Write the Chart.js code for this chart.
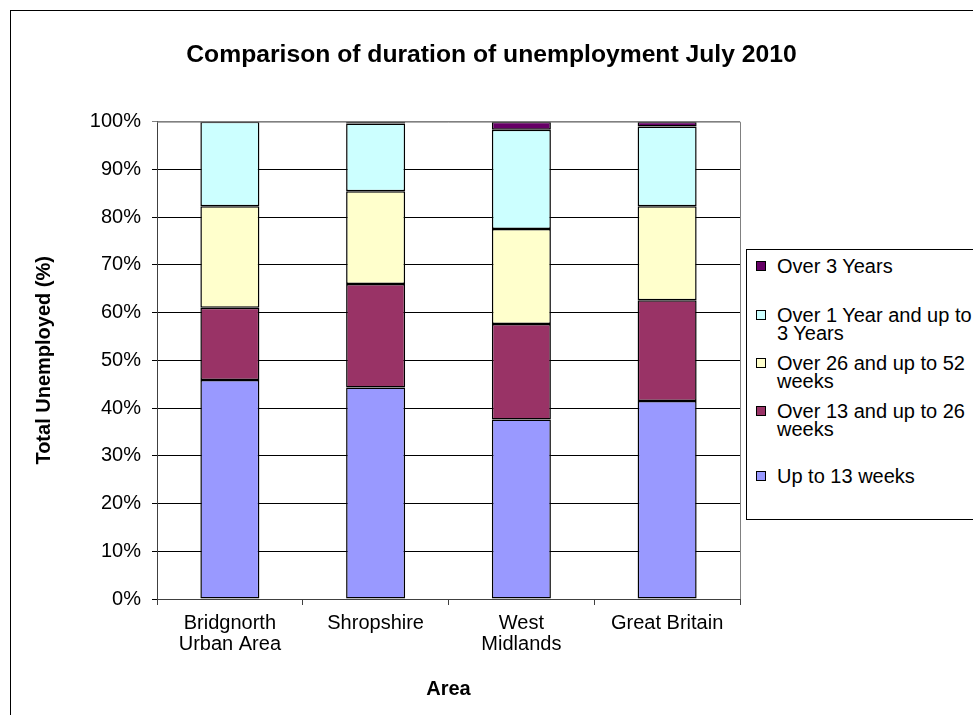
<!DOCTYPE html>
<html>
<head>
<meta charset="utf-8">
<script src="https://cdn.jsdelivr.net/npm/chart.js@4.4.0/dist/chart.umd.min.js"></script>
<style>
  html, body { margin: 0; padding: 0; background: #fff; overflow: hidden; }
  #wrap { position: relative; width: 973px; height: 715px; }
  #legend {
    position: absolute; left: 746px; top: 249px; width: 300px; height: 269px;
    border: 1px solid #000; background: #fff;
    font: 20px "Liberation Sans", Arial, sans-serif; color: #000;
  }
  .item { position: absolute; left: 30px; line-height: 18px; white-space: nowrap; }
  .sw { position: absolute; left: -21px; top: 4px; width: 8px; height: 8px; border: 1px solid #000; }
</style>
</head>
<body>
<div id="wrap">
  <canvas id="chart" width="973" height="715"></canvas>
  <div id="legend"></div>
</div>
<script>
// data
const areas = [["Bridgnorth", "Urban Area"], "Shropshire", ["West", "Midlands"], "Great Britain"];
const upTo13Weeks = [45.9, 44.3, 37.6, 41.5];
const over13To26 = [15.1, 21.7, 20.0, 21.1];
const over26To52 = [21.3, 19.4, 19.9, 19.7];
const over1To3Years = [17.7, 14.2, 20.8, 16.7];
const over3Years = [0.0, 0.4, 1.7, 1.0];

const font = "'Liberation Sans', Arial, sans-serif";

const series = [
  { label: "Up to 13 weeks", data: upTo13Weeks, color: "#9999FF" },
  { label: "Over 13 and up to 26 weeks", data: over13To26, color: "#993366" },
  { label: "Over 26 and up to 52 weeks", data: over26To52, color: "#FFFFCC" },
  { label: "Over 1 Year and up to 3 Years", data: over1To3Years, color: "#CCFFFF" },
  { label: "Over 3 Years", data: over3Years, color: "#660066" },
];

// outer frame + plot border
const framePlugin = {
  id: "frame",
  beforeDraw(chart) {
    const c = chart.ctx;
    c.save();
    c.strokeStyle = "#000";
    c.lineWidth = 1;
    c.strokeRect(10.5, 10.5, 2000, 2000);
    c.restore();
  },
  afterDatasetsDraw(chart) {
    const a = chart.chartArea;
    const c = chart.ctx;
    c.save();
    c.strokeStyle = "#808080";
    c.lineWidth = 1;
    c.beginPath();
    c.moveTo(a.left, a.top + 0.5);
    c.lineTo(a.right + 0.5, a.top + 0.5);
    c.lineTo(a.right + 0.5, a.bottom);
    c.stroke();
    c.restore();
  },
};

const ctx = document.getElementById("chart");
const myChart = new Chart(ctx, {
  type: "bar",
  data: {
    labels: areas,
    datasets: series.map((s) => ({
      label: s.label,
      data: s.data,
      backgroundColor: s.color,
      borderColor: "#000",
      borderWidth: 1.5,
      borderSkipped: false,
      barPercentage: 0.405,
      categoryPercentage: 1,
    })),
  },
  options: {
    responsive: false,
    animation: false,
    layout: { padding: { left: 10, right: 0, top: 10, bottom: 0 } },
    plugins: {
      legend: { display: false },
      tooltip: { enabled: false },
      title: {
        display: true,
        text: "Comparison of duration of unemployment July 2010",
        color: "#000",
        font: { family: font, size: 24.7, weight: "bold", lineHeight: 1.2 },
        padding: { top: 30, bottom: 52 },
      },
    },
    scales: {
      x: {
        stacked: true,
        afterFit: (scale) => { scale.height = 116; },
        grid: { display: true, drawOnChartArea: false, offset: true, tickLength: 6, color: "#404040" },
        border: { color: "#404040" },
        ticks: { color: "#000", font: { family: font, size: 20, lineHeight: 1.05 }, padding: 8, maxRotation: 0 },
        title: {
          display: true,
          text: "Area",
          color: "#000",
          font: { family: font, size: 20, weight: "bold", lineHeight: 1.2 },
          padding: { top: 0, bottom: 14 },
        },
      },
      y: {
        stacked: true,
        min: 0,
        max: 100,
        afterFit: (scale) => { scale.width = 147; },
        grid: {
          color: (c) => (c.tick && c.tick.value === 100 ? "#808080" : "#000"),
          tickLength: 5,
        },
        border: { color: "#404040" },
        ticks: {
          stepSize: 10,
          color: "#000",
          padding: 11,
          font: { family: font, size: 20 },
          callback: (v) => v + "%",
        },
        title: {
          display: true,
          text: "Total Unemployed (%)",
          color: "#000",
          font: { family: font, size: 20, weight: "bold", lineHeight: 1.2 },
          padding: { top: 22, bottom: 0 },
        },
      },
      // empty space on the right where the legend sits
      spacer: {
        position: "right",
        display: true,
        afterFit: (scale) => { scale.width = 233; },
        grid: { display: false },
        border: { display: false },
        ticks: { display: false },
      },
    },
  },
  plugins: [framePlugin],
});

// legend (reverse order, like the original)
const legendEl = document.getElementById("legend");
const legendLines = [
  ["Over 3 Years"],
  ["Over 1 Year and up to", "3 Years"],
  ["Over 26 and up to 52", "weeks"],
  ["Over 13 and up to 26", "weeks"],
  ["Up to 13 weeks"],
];
const legendTops = [7, 56, 104, 152, 217];
series.slice().reverse().forEach((s, i) => {
  const item = document.createElement("div");
  item.className = "item";
  item.style.top = legendTops[i] + "px";
  item.innerHTML = '<span class="sw" style="background:' + s.color + '"></span>' + legendLines[i].join("<br>");
  legendEl.appendChild(item);
});
</script>
</body>
</html>
